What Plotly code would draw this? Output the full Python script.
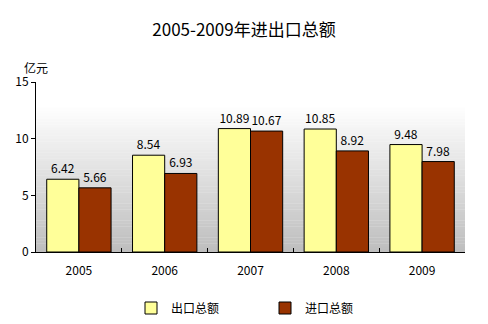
import plotly.graph_objects as go

years = ["2005", "2006", "2007", "2008", "2009"]
exports = [6.42, 8.54, 10.89, 10.85, 9.48]
imports = [5.66, 6.93, 10.67, 8.92, 7.98]
y_ticks = [0, 5, 10, 15]

FONT = "Noto Sans CJK SC"

fig = go.Figure()
fig.add_trace(go.Bar(
    name="出口总额", x=years, y=exports,
    marker=dict(color="#ffff99", line=dict(color="black", width=1)),
    text=[f"{v:.2f}" for v in exports], textposition="outside",
    textfont=dict(size=12, color="black", family=FONT), cliponaxis=False,
))
fig.add_trace(go.Bar(
    name="进口总额", x=years, y=imports,
    marker=dict(color="#993300", line=dict(color="black", width=1)),
    text=[f"{v:.2f}" for v in imports], textposition="outside",
    textfont=dict(size=12, color="black", family=FONT), cliponaxis=False,
))

# gradient background bands (white at top -> gray at bottom)
n = 60
shapes = []
for i in range(n):
    t = i / (n - 1)  # 0 bottom, 1 top
    g = int(round(190 + (255 - 190) * min(1.0, t * 1.15)))
    shapes.append(dict(
        type="rect", xref="x domain", yref="y domain",
        x0=0, x1=1, y0=i / n, y1=(i + 1) / n + 0.002,
        fillcolor=f"rgb({g},{g},{g})", line=dict(width=0), layer="below",
    ))

fig.update_layout(
    width=488, height=324,
    margin=dict(l=36, r=23, t=82, b=72, autoexpand=False),
    paper_bgcolor="white", plot_bgcolor="white",
    barmode="group", bargap=0.25, bargroupgap=0,
    shapes=shapes,
    font=dict(family=FONT, size=12, color="black"),
    title=dict(text="2005-2009年进出口总额", x=0.5, xanchor="center",
               y=1 - 30 / 324, yanchor="middle",
               font=dict(size=17, family=FONT, color="black")),
    showlegend=True,
    legend=dict(orientation="h", xref="container", x=131 / 488, xanchor="left",
                yref="container", y=(324 - 308) / 324, yanchor="middle",
                font=dict(size=12, family=FONT), entrywidth=89, entrywidthmode="pixels",
                bgcolor="rgba(0,0,0,0)"),
    annotations=[dict(text="亿元", xref="paper", yref="paper", x=0, y=1 + 15 / 170,
                      xanchor="center", yanchor="middle", showarrow=False,
                      font=dict(size=12, family=FONT))],
)
fig.update_xaxes(showline=True, linecolor="black", linewidth=1, ticks="inside",
                 tickson="boundaries", ticklen=4, tickcolor="black",
                 showgrid=False, tickfont=dict(size=12), ticklabelstandoff=8)
fig.update_yaxes(range=[0, 15], tickvals=y_ticks, showline=True, linecolor="black",
                 linewidth=1, ticks="outside", ticklen=4, tickcolor="black",
                 showgrid=False, zeroline=False, tickfont=dict(size=12))

fig.write_html("out.html")
